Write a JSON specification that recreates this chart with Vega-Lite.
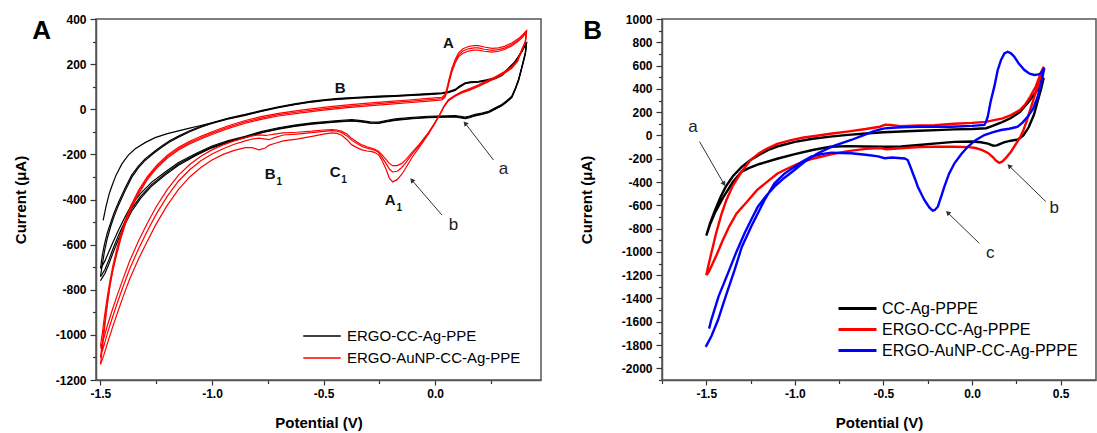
{
"$schema": "https://vega.github.io/schema/vega-lite/v6.json",
"background": "white",
"padding": {"left": 12, "top": 12, "right": 0, "bottom": 0},
"bounds": "flush",
"spacing": 121,
"resolve": {"scale": {"color": "independent"}, "legend": {"color": "independent"}},
"config": {
  "font": "Liberation Sans",
  "view": {"stroke": "#555", "strokeWidth": 1.5},
  "axis": {"grid": false, "domainColor": "#555", "domainWidth": 1.5, "tickColor": "#333", "tickWidth": 1.2,
    "labelFont": "Liberation Sans", "labelFontSize": 12, "labelFontWeight": "bold", "labelColor": "#000", "labelPadding": 4,
    "labelFlush": false, "labelOverlap": false,
    "titleFont": "Liberation Sans", "titleFontSize": 15, "titleFontWeight": "bold", "titleColor": "#000"},
  "title": {"font": "Liberation Sans", "fontSize": 26, "fontWeight": "bold", "color": "#000"}
},
"datasets": {
"a": [
{"s":"k","c":1,"v":-1.488,"i":-493},{"s":"k","c":1,"v":-1.475,"i":-430},{"s":"k","c":1,"v":-1.46,"i":-372},{"s":"k","c":1,"v":-1.445,"i":-330},{"s":"k","c":1,"v":-1.43,"i":-292},{"s":"k","c":1,"v":-1.404,"i":-242},{"s":"k","c":1,"v":-1.375,"i":-203},{"s":"k","c":1,"v":-1.344,"i":-175},{"s":"k","c":1,"v":-1.3,"i":-148},{"s":"k","c":1,"v":-1.255,"i":-126},{"s":"k","c":1,"v":-1.2,"i":-108},{"s":"k","c":1,"v":-1.15,"i":-96},{"s":"k","c":1,"v":-1.1,"i":-84},{"s":"k","c":1,"v":-1.05,"i":-72},{"s":"k","c":1,"v":-1.0,"i":-60},{"s":"k","c":1,"v":-0.93,"i":-40},{"s":"k","c":1,"v":-0.851,"i":-23},{"s":"k","c":1,"v":-0.78,"i":-6},{"s":"k","c":1,"v":-0.702,"i":11},{"s":"k","c":1,"v":-0.63,"i":24},{"s":"k","c":1,"v":-0.552,"i":36},{"s":"k","c":1,"v":-0.49,"i":43},{"s":"k","c":1,"v":-0.433,"i":48},{"s":"k","c":1,"v":-0.35,"i":53},{"s":"k","c":1,"v":-0.253,"i":58},{"s":"k","c":1,"v":-0.18,"i":61},{"s":"k","c":1,"v":-0.104,"i":65},{"s":"k","c":1,"v":-0.03,"i":69},{"s":"k","c":1,"v":0.031,"i":73},{"s":"k","c":1,"v":0.06,"i":78},{"s":"k","c":1,"v":0.09,"i":88},{"s":"k","c":1,"v":0.11,"i":103},{"s":"k","c":1,"v":0.135,"i":117},{"s":"k","c":1,"v":0.16,"i":122},{"s":"k","c":1,"v":0.195,"i":124},{"s":"k","c":1,"v":0.23,"i":130},{"s":"k","c":1,"v":0.27,"i":139},{"s":"k","c":1,"v":0.3,"i":154},{"s":"k","c":1,"v":0.33,"i":183},{"s":"k","c":1,"v":0.355,"i":207},{"s":"k","c":1,"v":0.374,"i":235},{"s":"k","c":1,"v":0.39,"i":260},{"s":"k","c":1,"v":0.404,"i":287},{"s":"k","c":1,"v":0.41,"i":296},
{"s":"k","c":1,"v":0.405,"i":252},{"s":"k","c":1,"v":0.397,"i":220},{"s":"k","c":1,"v":0.386,"i":177},{"s":"k","c":1,"v":0.374,"i":132},{"s":"k","c":1,"v":0.36,"i":94},{"s":"k","c":1,"v":0.344,"i":58},{"s":"k","c":1,"v":0.32,"i":37},{"s":"k","c":1,"v":0.299,"i":21},{"s":"k","c":1,"v":0.27,"i":6},{"s":"k","c":1,"v":0.24,"i":-9},{"s":"k","c":1,"v":0.21,"i":-17},{"s":"k","c":1,"v":0.18,"i":-23},{"s":"k","c":1,"v":0.155,"i":-30},{"s":"k","c":1,"v":0.135,"i":-35},{"s":"k","c":1,"v":0.115,"i":-31},{"s":"k","c":1,"v":0.09,"i":-28},{"s":"k","c":1,"v":0.05,"i":-29},{"s":"k","c":1,"v":-0.03,"i":-31},{"s":"k","c":1,"v":-0.1,"i":-36},{"s":"k","c":1,"v":-0.179,"i":-43},{"s":"k","c":1,"v":-0.22,"i":-50},{"s":"k","c":1,"v":-0.253,"i":-57},{"s":"k","c":1,"v":-0.29,"i":-56},{"s":"k","c":1,"v":-0.33,"i":-50},{"s":"k","c":1,"v":-0.373,"i":-46},{"s":"k","c":1,"v":-0.45,"i":-51},{"s":"k","c":1,"v":-0.552,"i":-60},{"s":"k","c":1,"v":-0.63,"i":-70},{"s":"k","c":1,"v":-0.702,"i":-82},{"s":"k","c":1,"v":-0.78,"i":-99},{"s":"k","c":1,"v":-0.851,"i":-120},{"s":"k","c":1,"v":-0.93,"i":-140},{"s":"k","c":1,"v":-1.0,"i":-163},{"s":"k","c":1,"v":-1.07,"i":-195},{"s":"k","c":1,"v":-1.15,"i":-236},{"s":"k","c":1,"v":-1.21,"i":-278},{"s":"k","c":1,"v":-1.27,"i":-323},{"s":"k","c":1,"v":-1.32,"i":-373},{"s":"k","c":1,"v":-1.36,"i":-423},{"s":"k","c":1,"v":-1.39,"i":-478},{"s":"k","c":1,"v":-1.419,"i":-535},{"s":"k","c":1,"v":-1.445,"i":-592},{"s":"k","c":1,"v":-1.464,"i":-635},{"s":"k","c":1,"v":-1.48,"i":-672},{"s":"k","c":1,"v":-1.495,"i":-700},{"s":"k","c":1,"v":-1.5,"i":-705},
{"s":"k","c":2,"v":-1.5,"i":-705},{"s":"k","c":2,"v":-1.492,"i":-650},{"s":"k","c":2,"v":-1.482,"i":-598},{"s":"k","c":2,"v":-1.47,"i":-550},{"s":"k","c":2,"v":-1.455,"i":-505},{"s":"k","c":2,"v":-1.44,"i":-462},{"s":"k","c":2,"v":-1.419,"i":-412},{"s":"k","c":2,"v":-1.39,"i":-350},{"s":"k","c":2,"v":-1.36,"i":-292},{"s":"k","c":2,"v":-1.33,"i":-252},{"s":"k","c":2,"v":-1.3,"i":-220},{"s":"k","c":2,"v":-1.26,"i":-188},{"s":"k","c":2,"v":-1.225,"i":-163},{"s":"k","c":2,"v":-1.19,"i":-140},{"s":"k","c":2,"v":-1.15,"i":-119},{"s":"k","c":2,"v":-1.1,"i":-95},{"s":"k","c":2,"v":-1.05,"i":-76},{"s":"k","c":2,"v":-1.0,"i":-60},{"s":"k","c":2,"v":-0.93,"i":-42},{"s":"k","c":2,"v":-0.851,"i":-25},{"s":"k","c":2,"v":-0.78,"i":-8},{"s":"k","c":2,"v":-0.702,"i":9},{"s":"k","c":2,"v":-0.63,"i":22},{"s":"k","c":2,"v":-0.552,"i":34},{"s":"k","c":2,"v":-0.49,"i":41},{"s":"k","c":2,"v":-0.433,"i":46},{"s":"k","c":2,"v":-0.35,"i":51},{"s":"k","c":2,"v":-0.253,"i":56},{"s":"k","c":2,"v":-0.18,"i":59},{"s":"k","c":2,"v":-0.104,"i":63},{"s":"k","c":2,"v":-0.03,"i":67},{"s":"k","c":2,"v":0.031,"i":71},{"s":"k","c":2,"v":0.06,"i":76},{"s":"k","c":2,"v":0.09,"i":85},{"s":"k","c":2,"v":0.11,"i":100},{"s":"k","c":2,"v":0.135,"i":115},{"s":"k","c":2,"v":0.16,"i":120},{"s":"k","c":2,"v":0.195,"i":122},{"s":"k","c":2,"v":0.23,"i":128},{"s":"k","c":2,"v":0.27,"i":137},{"s":"k","c":2,"v":0.3,"i":152},{"s":"k","c":2,"v":0.33,"i":181},{"s":"k","c":2,"v":0.355,"i":205},{"s":"k","c":2,"v":0.374,"i":233},{"s":"k","c":2,"v":0.39,"i":258},{"s":"k","c":2,"v":0.404,"i":285},{"s":"k","c":2,"v":0.41,"i":293},
{"s":"k","c":2,"v":0.405,"i":248},{"s":"k","c":2,"v":0.397,"i":216},{"s":"k","c":2,"v":0.386,"i":173},{"s":"k","c":2,"v":0.374,"i":128},{"s":"k","c":2,"v":0.36,"i":90},{"s":"k","c":2,"v":0.344,"i":54},{"s":"k","c":2,"v":0.32,"i":33},{"s":"k","c":2,"v":0.299,"i":17},{"s":"k","c":2,"v":0.27,"i":2},{"s":"k","c":2,"v":0.24,"i":-13},{"s":"k","c":2,"v":0.21,"i":-21},{"s":"k","c":2,"v":0.18,"i":-27},{"s":"k","c":2,"v":0.155,"i":-34},{"s":"k","c":2,"v":0.135,"i":-39},{"s":"k","c":2,"v":0.115,"i":-35},{"s":"k","c":2,"v":0.09,"i":-32},{"s":"k","c":2,"v":0.05,"i":-33},{"s":"k","c":2,"v":-0.03,"i":-35},{"s":"k","c":2,"v":-0.1,"i":-40},{"s":"k","c":2,"v":-0.179,"i":-47},{"s":"k","c":2,"v":-0.22,"i":-54},{"s":"k","c":2,"v":-0.253,"i":-61},{"s":"k","c":2,"v":-0.29,"i":-60},{"s":"k","c":2,"v":-0.33,"i":-54},{"s":"k","c":2,"v":-0.373,"i":-50},{"s":"k","c":2,"v":-0.45,"i":-55},{"s":"k","c":2,"v":-0.552,"i":-64},{"s":"k","c":2,"v":-0.63,"i":-74},{"s":"k","c":2,"v":-0.702,"i":-86},{"s":"k","c":2,"v":-0.78,"i":-103},{"s":"k","c":2,"v":-0.851,"i":-124},{"s":"k","c":2,"v":-0.93,"i":-144},{"s":"k","c":2,"v":-1.0,"i":-168},{"s":"k","c":2,"v":-1.07,"i":-200},{"s":"k","c":2,"v":-1.15,"i":-243},{"s":"k","c":2,"v":-1.21,"i":-286},{"s":"k","c":2,"v":-1.27,"i":-333},{"s":"k","c":2,"v":-1.32,"i":-386},{"s":"k","c":2,"v":-1.36,"i":-440},{"s":"k","c":2,"v":-1.39,"i":-497},{"s":"k","c":2,"v":-1.419,"i":-558},{"s":"k","c":2,"v":-1.445,"i":-622},{"s":"k","c":2,"v":-1.464,"i":-672},{"s":"k","c":2,"v":-1.48,"i":-710},{"s":"k","c":2,"v":-1.495,"i":-735},{"s":"k","c":2,"v":-1.5,"i":-742},
{"s":"k","c":3,"v":-1.5,"i":-742},{"s":"k","c":3,"v":-1.492,"i":-690},{"s":"k","c":3,"v":-1.482,"i":-630},{"s":"k","c":3,"v":-1.47,"i":-575},{"s":"k","c":3,"v":-1.455,"i":-522},{"s":"k","c":3,"v":-1.44,"i":-478},{"s":"k","c":3,"v":-1.419,"i":-425},{"s":"k","c":3,"v":-1.39,"i":-362},{"s":"k","c":3,"v":-1.36,"i":-302},{"s":"k","c":3,"v":-1.33,"i":-260},{"s":"k","c":3,"v":-1.3,"i":-227},{"s":"k","c":3,"v":-1.26,"i":-194},{"s":"k","c":3,"v":-1.225,"i":-168},{"s":"k","c":3,"v":-1.19,"i":-145},{"s":"k","c":3,"v":-1.15,"i":-124},{"s":"k","c":3,"v":-1.1,"i":-100},{"s":"k","c":3,"v":-1.05,"i":-80},{"s":"k","c":3,"v":-1.0,"i":-63},{"s":"k","c":3,"v":-0.93,"i":-44},{"s":"k","c":3,"v":-0.851,"i":-27},{"s":"k","c":3,"v":-0.78,"i":-10},{"s":"k","c":3,"v":-0.702,"i":7},{"s":"k","c":3,"v":-0.63,"i":20},{"s":"k","c":3,"v":-0.552,"i":32},{"s":"k","c":3,"v":-0.49,"i":39},{"s":"k","c":3,"v":-0.433,"i":44},{"s":"k","c":3,"v":-0.35,"i":49},{"s":"k","c":3,"v":-0.253,"i":54},{"s":"k","c":3,"v":-0.18,"i":57},{"s":"k","c":3,"v":-0.104,"i":61},{"s":"k","c":3,"v":-0.03,"i":65},{"s":"k","c":3,"v":0.031,"i":69},{"s":"k","c":3,"v":0.06,"i":74},{"s":"k","c":3,"v":0.09,"i":83},{"s":"k","c":3,"v":0.11,"i":98},{"s":"k","c":3,"v":0.135,"i":113},{"s":"k","c":3,"v":0.16,"i":118},{"s":"k","c":3,"v":0.195,"i":120},{"s":"k","c":3,"v":0.23,"i":126},{"s":"k","c":3,"v":0.27,"i":135},{"s":"k","c":3,"v":0.3,"i":150},{"s":"k","c":3,"v":0.33,"i":179},{"s":"k","c":3,"v":0.355,"i":203},{"s":"k","c":3,"v":0.374,"i":231},{"s":"k","c":3,"v":0.39,"i":256},{"s":"k","c":3,"v":0.404,"i":283},{"s":"k","c":3,"v":0.41,"i":290},
{"s":"k","c":3,"v":0.405,"i":245},{"s":"k","c":3,"v":0.397,"i":213},{"s":"k","c":3,"v":0.386,"i":170},{"s":"k","c":3,"v":0.374,"i":125},{"s":"k","c":3,"v":0.36,"i":88},{"s":"k","c":3,"v":0.344,"i":52},{"s":"k","c":3,"v":0.32,"i":31},{"s":"k","c":3,"v":0.299,"i":15},{"s":"k","c":3,"v":0.27,"i":0},{"s":"k","c":3,"v":0.24,"i":-15},{"s":"k","c":3,"v":0.21,"i":-23},{"s":"k","c":3,"v":0.18,"i":-29},{"s":"k","c":3,"v":0.155,"i":-37},{"s":"k","c":3,"v":0.135,"i":-42},{"s":"k","c":3,"v":0.115,"i":-38},{"s":"k","c":3,"v":0.09,"i":-34},{"s":"k","c":3,"v":0.05,"i":-35},{"s":"k","c":3,"v":-0.03,"i":-37},{"s":"k","c":3,"v":-0.1,"i":-42},{"s":"k","c":3,"v":-0.179,"i":-49},{"s":"k","c":3,"v":-0.22,"i":-56},{"s":"k","c":3,"v":-0.253,"i":-63},{"s":"k","c":3,"v":-0.29,"i":-62},{"s":"k","c":3,"v":-0.33,"i":-56},{"s":"k","c":3,"v":-0.373,"i":-52},{"s":"k","c":3,"v":-0.45,"i":-57},{"s":"k","c":3,"v":-0.552,"i":-66},{"s":"k","c":3,"v":-0.63,"i":-76},{"s":"k","c":3,"v":-0.702,"i":-88},{"s":"k","c":3,"v":-0.78,"i":-105},{"s":"k","c":3,"v":-0.851,"i":-126},{"s":"k","c":3,"v":-0.93,"i":-147},{"s":"k","c":3,"v":-1.0,"i":-171},{"s":"k","c":3,"v":-1.07,"i":-204},{"s":"k","c":3,"v":-1.15,"i":-248},{"s":"k","c":3,"v":-1.21,"i":-292},{"s":"k","c":3,"v":-1.27,"i":-340},{"s":"k","c":3,"v":-1.32,"i":-395},{"s":"k","c":3,"v":-1.36,"i":-452},{"s":"k","c":3,"v":-1.39,"i":-510},{"s":"k","c":3,"v":-1.419,"i":-575},{"s":"k","c":3,"v":-1.445,"i":-640},{"s":"k","c":3,"v":-1.464,"i":-690},{"s":"k","c":3,"v":-1.48,"i":-728},{"s":"k","c":3,"v":-1.495,"i":-752},{"s":"k","c":3,"v":-1.5,"i":-760},
{"s":"r","c":1,"v":-1.5,"i":-1050},{"s":"r","c":1,"v":-1.492,"i":-995},{"s":"r","c":1,"v":-1.485,"i":-940},{"s":"r","c":1,"v":-1.477,"i":-882},{"s":"r","c":1,"v":-1.468,"i":-822},{"s":"r","c":1,"v":-1.457,"i":-758},{"s":"r","c":1,"v":-1.444,"i":-692},{"s":"r","c":1,"v":-1.428,"i":-625},{"s":"r","c":1,"v":-1.41,"i":-558},{"s":"r","c":1,"v":-1.388,"i":-490},{"s":"r","c":1,"v":-1.362,"i":-424},{"s":"r","c":1,"v":-1.33,"i":-360},{"s":"r","c":1,"v":-1.29,"i":-298},{"s":"r","c":1,"v":-1.245,"i":-246},{"s":"r","c":1,"v":-1.2,"i":-204},{"s":"r","c":1,"v":-1.15,"i":-169},{"s":"r","c":1,"v":-1.1,"i":-142},{"s":"r","c":1,"v":-1.05,"i":-120},{"s":"r","c":1,"v":-1.0,"i":-100},{"s":"r","c":1,"v":-0.93,"i":-74},{"s":"r","c":1,"v":-0.851,"i":-50},{"s":"r","c":1,"v":-0.78,"i":-33},{"s":"r","c":1,"v":-0.702,"i":-18},{"s":"r","c":1,"v":-0.6,"i":-4},{"s":"r","c":1,"v":-0.5,"i":8},{"s":"r","c":1,"v":-0.403,"i":18},{"s":"r","c":1,"v":-0.3,"i":27},{"s":"r","c":1,"v":-0.2,"i":35},{"s":"r","c":1,"v":-0.104,"i":42},{"s":"r","c":1,"v":-0.03,"i":48},{"s":"r","c":1,"v":0.031,"i":53},{"s":"r","c":1,"v":0.045,"i":66},{"s":"r","c":1,"v":0.053,"i":92},{"s":"r","c":1,"v":0.064,"i":138},{"s":"r","c":1,"v":0.075,"i":180},{"s":"r","c":1,"v":0.09,"i":220},{"s":"r","c":1,"v":0.105,"i":250},{"s":"r","c":1,"v":0.125,"i":268},{"s":"r","c":1,"v":0.15,"i":278},{"s":"r","c":1,"v":0.175,"i":282},{"s":"r","c":1,"v":0.195,"i":282},{"s":"r","c":1,"v":0.22,"i":276},{"s":"r","c":1,"v":0.255,"i":270},{"s":"r","c":1,"v":0.285,"i":272},{"s":"r","c":1,"v":0.314,"i":280},{"s":"r","c":1,"v":0.345,"i":295},{"s":"r","c":1,"v":0.374,"i":313},{"s":"r","c":1,"v":0.393,"i":330},{"s":"r","c":1,"v":0.404,"i":343},{"s":"r","c":1,"v":0.41,"i":348},
{"s":"r","c":1,"v":0.405,"i":302},{"s":"r","c":1,"v":0.389,"i":265},{"s":"r","c":1,"v":0.37,"i":218},{"s":"r","c":1,"v":0.344,"i":190},{"s":"r","c":1,"v":0.31,"i":166},{"s":"r","c":1,"v":0.27,"i":144},{"s":"r","c":1,"v":0.23,"i":125},{"s":"r","c":1,"v":0.195,"i":108},{"s":"r","c":1,"v":0.155,"i":92},{"s":"r","c":1,"v":0.12,"i":78},{"s":"r","c":1,"v":0.09,"i":62},{"s":"r","c":1,"v":0.06,"i":42},{"s":"r","c":1,"v":0.04,"i":13},{"s":"r","c":1,"v":0.023,"i":-20},{"s":"r","c":1,"v":0.0,"i":-62},{"s":"r","c":1,"v":-0.03,"i":-110},{"s":"r","c":1,"v":-0.07,"i":-168},{"s":"r","c":1,"v":-0.104,"i":-215},{"s":"r","c":1,"v":-0.13,"i":-258},{"s":"r","c":1,"v":-0.149,"i":-288},{"s":"r","c":1,"v":-0.17,"i":-312},{"s":"r","c":1,"v":-0.19,"i":-322},{"s":"r","c":1,"v":-0.205,"i":-305},{"s":"r","c":1,"v":-0.22,"i":-265},{"s":"r","c":1,"v":-0.24,"i":-222},{"s":"r","c":1,"v":-0.253,"i":-202},{"s":"r","c":1,"v":-0.27,"i":-192},{"s":"r","c":1,"v":-0.283,"i":-188},{"s":"r","c":1,"v":-0.305,"i":-185},{"s":"r","c":1,"v":-0.328,"i":-180},{"s":"r","c":1,"v":-0.35,"i":-170},{"s":"r","c":1,"v":-0.373,"i":-158},{"s":"r","c":1,"v":-0.395,"i":-135},{"s":"r","c":1,"v":-0.418,"i":-115},{"s":"r","c":1,"v":-0.44,"i":-107},{"s":"r","c":1,"v":-0.463,"i":-105},{"s":"r","c":1,"v":-0.5,"i":-110},{"s":"r","c":1,"v":-0.552,"i":-120},{"s":"r","c":1,"v":-0.62,"i":-132},{"s":"r","c":1,"v":-0.68,"i":-140},{"s":"r","c":1,"v":-0.72,"i":-152},{"s":"r","c":1,"v":-0.745,"i":-160},{"s":"r","c":1,"v":-0.761,"i":-172},{"s":"r","c":1,"v":-0.79,"i":-180},{"s":"r","c":1,"v":-0.82,"i":-170},{"s":"r","c":1,"v":-0.851,"i":-170},{"s":"r","c":1,"v":-0.9,"i":-182},{"s":"r","c":1,"v":-0.95,"i":-200},{"s":"r","c":1,"v":-1.0,"i":-225},{"s":"r","c":1,"v":-1.05,"i":-258},{"s":"r","c":1,"v":-1.1,"i":-300},{"s":"r","c":1,"v":-1.15,"i":-355},{"s":"r","c":1,"v":-1.2,"i":-425},{"s":"r","c":1,"v":-1.25,"i":-508},{"s":"r","c":1,"v":-1.29,"i":-585},{"s":"r","c":1,"v":-1.33,"i":-665},{"s":"r","c":1,"v":-1.37,"i":-755},{"s":"r","c":1,"v":-1.4,"i":-835},{"s":"r","c":1,"v":-1.425,"i":-905},{"s":"r","c":1,"v":-1.447,"i":-970},{"s":"r","c":1,"v":-1.468,"i":-1035},{"s":"r","c":1,"v":-1.485,"i":-1090},{"s":"r","c":1,"v":-1.5,"i":-1130},
{"s":"r","c":2,"v":-1.5,"i":-1130},{"s":"r","c":2,"v":-1.492,"i":-1065},{"s":"r","c":2,"v":-1.485,"i":-1000},{"s":"r","c":2,"v":-1.477,"i":-930},{"s":"r","c":2,"v":-1.468,"i":-860},{"s":"r","c":2,"v":-1.457,"i":-780},{"s":"r","c":2,"v":-1.444,"i":-710},{"s":"r","c":2,"v":-1.428,"i":-640},{"s":"r","c":2,"v":-1.41,"i":-570},{"s":"r","c":2,"v":-1.388,"i":-500},{"s":"r","c":2,"v":-1.362,"i":-432},{"s":"r","c":2,"v":-1.33,"i":-368},{"s":"r","c":2,"v":-1.29,"i":-305},{"s":"r","c":2,"v":-1.245,"i":-252},{"s":"r","c":2,"v":-1.2,"i":-210},{"s":"r","c":2,"v":-1.15,"i":-175},{"s":"r","c":2,"v":-1.1,"i":-148},{"s":"r","c":2,"v":-1.05,"i":-126},{"s":"r","c":2,"v":-1.0,"i":-106},{"s":"r","c":2,"v":-0.93,"i":-80},{"s":"r","c":2,"v":-0.851,"i":-56},{"s":"r","c":2,"v":-0.78,"i":-39},{"s":"r","c":2,"v":-0.702,"i":-24},{"s":"r","c":2,"v":-0.6,"i":-10},{"s":"r","c":2,"v":-0.5,"i":2},{"s":"r","c":2,"v":-0.403,"i":12},{"s":"r","c":2,"v":-0.3,"i":21},{"s":"r","c":2,"v":-0.2,"i":29},{"s":"r","c":2,"v":-0.104,"i":36},{"s":"r","c":2,"v":-0.03,"i":42},{"s":"r","c":2,"v":0.031,"i":47},{"s":"r","c":2,"v":0.045,"i":60},{"s":"r","c":2,"v":0.053,"i":85},{"s":"r","c":2,"v":0.064,"i":130},{"s":"r","c":2,"v":0.075,"i":172},{"s":"r","c":2,"v":0.09,"i":212},{"s":"r","c":2,"v":0.105,"i":240},{"s":"r","c":2,"v":0.125,"i":258},{"s":"r","c":2,"v":0.15,"i":268},{"s":"r","c":2,"v":0.175,"i":272},{"s":"r","c":2,"v":0.195,"i":272},{"s":"r","c":2,"v":0.22,"i":266},{"s":"r","c":2,"v":0.255,"i":261},{"s":"r","c":2,"v":0.285,"i":264},{"s":"r","c":2,"v":0.314,"i":272},{"s":"r","c":2,"v":0.345,"i":288},{"s":"r","c":2,"v":0.374,"i":307},{"s":"r","c":2,"v":0.393,"i":325},{"s":"r","c":2,"v":0.404,"i":339},{"s":"r","c":2,"v":0.41,"i":345},
{"s":"r","c":2,"v":0.405,"i":300},{"s":"r","c":2,"v":0.389,"i":263},{"s":"r","c":2,"v":0.37,"i":215},{"s":"r","c":2,"v":0.344,"i":186},{"s":"r","c":2,"v":0.31,"i":162},{"s":"r","c":2,"v":0.27,"i":140},{"s":"r","c":2,"v":0.23,"i":121},{"s":"r","c":2,"v":0.195,"i":104},{"s":"r","c":2,"v":0.155,"i":88},{"s":"r","c":2,"v":0.12,"i":75},{"s":"r","c":2,"v":0.09,"i":60},{"s":"r","c":2,"v":0.06,"i":40},{"s":"r","c":2,"v":0.04,"i":12},{"s":"r","c":2,"v":0.023,"i":-20},{"s":"r","c":2,"v":0.0,"i":-60},{"s":"r","c":2,"v":-0.03,"i":-107},{"s":"r","c":2,"v":-0.07,"i":-160},{"s":"r","c":2,"v":-0.104,"i":-200},{"s":"r","c":2,"v":-0.13,"i":-235},{"s":"r","c":2,"v":-0.149,"i":-258},{"s":"r","c":2,"v":-0.17,"i":-275},{"s":"r","c":2,"v":-0.19,"i":-278},{"s":"r","c":2,"v":-0.205,"i":-265},{"s":"r","c":2,"v":-0.22,"i":-240},{"s":"r","c":2,"v":-0.24,"i":-210},{"s":"r","c":2,"v":-0.253,"i":-192},{"s":"r","c":2,"v":-0.27,"i":-182},{"s":"r","c":2,"v":-0.283,"i":-178},{"s":"r","c":2,"v":-0.305,"i":-172},{"s":"r","c":2,"v":-0.328,"i":-165},{"s":"r","c":2,"v":-0.35,"i":-152},{"s":"r","c":2,"v":-0.373,"i":-138},{"s":"r","c":2,"v":-0.395,"i":-118},{"s":"r","c":2,"v":-0.418,"i":-104},{"s":"r","c":2,"v":-0.44,"i":-97},{"s":"r","c":2,"v":-0.463,"i":-95},{"s":"r","c":2,"v":-0.5,"i":-98},{"s":"r","c":2,"v":-0.552,"i":-104},{"s":"r","c":2,"v":-0.62,"i":-110},{"s":"r","c":2,"v":-0.68,"i":-114},{"s":"r","c":2,"v":-0.72,"i":-126},{"s":"r","c":2,"v":-0.745,"i":-135},{"s":"r","c":2,"v":-0.761,"i":-132},{"s":"r","c":2,"v":-0.79,"i":-128},{"s":"r","c":2,"v":-0.82,"i":-132},{"s":"r","c":2,"v":-0.851,"i":-140},{"s":"r","c":2,"v":-0.9,"i":-155},{"s":"r","c":2,"v":-0.95,"i":-175},{"s":"r","c":2,"v":-1.0,"i":-198},{"s":"r","c":2,"v":-1.05,"i":-228},{"s":"r","c":2,"v":-1.1,"i":-268},{"s":"r","c":2,"v":-1.15,"i":-318},{"s":"r","c":2,"v":-1.2,"i":-385},{"s":"r","c":2,"v":-1.25,"i":-465},{"s":"r","c":2,"v":-1.29,"i":-540},{"s":"r","c":2,"v":-1.33,"i":-620},{"s":"r","c":2,"v":-1.37,"i":-710},{"s":"r","c":2,"v":-1.4,"i":-790},{"s":"r","c":2,"v":-1.425,"i":-860},{"s":"r","c":2,"v":-1.447,"i":-925},{"s":"r","c":2,"v":-1.468,"i":-990},{"s":"r","c":2,"v":-1.485,"i":-1050},{"s":"r","c":2,"v":-1.5,"i":-1100},
{"s":"r","c":3,"v":-1.5,"i":-1100},{"s":"r","c":3,"v":-1.492,"i":-1040},{"s":"r","c":3,"v":-1.485,"i":-978},{"s":"r","c":3,"v":-1.477,"i":-912},{"s":"r","c":3,"v":-1.468,"i":-846},{"s":"r","c":3,"v":-1.457,"i":-778},{"s":"r","c":3,"v":-1.444,"i":-712},{"s":"r","c":3,"v":-1.428,"i":-646},{"s":"r","c":3,"v":-1.41,"i":-578},{"s":"r","c":3,"v":-1.388,"i":-508},{"s":"r","c":3,"v":-1.362,"i":-440},{"s":"r","c":3,"v":-1.33,"i":-376},{"s":"r","c":3,"v":-1.29,"i":-312},{"s":"r","c":3,"v":-1.245,"i":-258},{"s":"r","c":3,"v":-1.2,"i":-216},{"s":"r","c":3,"v":-1.15,"i":-181},{"s":"r","c":3,"v":-1.1,"i":-154},{"s":"r","c":3,"v":-1.05,"i":-132},{"s":"r","c":3,"v":-1.0,"i":-112},{"s":"r","c":3,"v":-0.93,"i":-86},{"s":"r","c":3,"v":-0.851,"i":-62},{"s":"r","c":3,"v":-0.78,"i":-45},{"s":"r","c":3,"v":-0.702,"i":-30},{"s":"r","c":3,"v":-0.6,"i":-16},{"s":"r","c":3,"v":-0.5,"i":-4},{"s":"r","c":3,"v":-0.403,"i":6},{"s":"r","c":3,"v":-0.3,"i":15},{"s":"r","c":3,"v":-0.2,"i":23},{"s":"r","c":3,"v":-0.104,"i":30},{"s":"r","c":3,"v":-0.03,"i":36},{"s":"r","c":3,"v":0.031,"i":41},{"s":"r","c":3,"v":0.045,"i":54},{"s":"r","c":3,"v":0.053,"i":78},{"s":"r","c":3,"v":0.064,"i":122},{"s":"r","c":3,"v":0.075,"i":164},{"s":"r","c":3,"v":0.09,"i":204},{"s":"r","c":3,"v":0.105,"i":232},{"s":"r","c":3,"v":0.125,"i":248},{"s":"r","c":3,"v":0.15,"i":258},{"s":"r","c":3,"v":0.175,"i":262},{"s":"r","c":3,"v":0.195,"i":262},{"s":"r","c":3,"v":0.22,"i":257},{"s":"r","c":3,"v":0.255,"i":253},{"s":"r","c":3,"v":0.285,"i":257},{"s":"r","c":3,"v":0.314,"i":266},{"s":"r","c":3,"v":0.345,"i":282},{"s":"r","c":3,"v":0.374,"i":302},{"s":"r","c":3,"v":0.393,"i":320},{"s":"r","c":3,"v":0.404,"i":334},{"s":"r","c":3,"v":0.41,"i":340},
{"s":"r","c":3,"v":0.405,"i":298},{"s":"r","c":3,"v":0.389,"i":260},{"s":"r","c":3,"v":0.37,"i":212},{"s":"r","c":3,"v":0.344,"i":182},{"s":"r","c":3,"v":0.31,"i":158},{"s":"r","c":3,"v":0.27,"i":136},{"s":"r","c":3,"v":0.23,"i":118},{"s":"r","c":3,"v":0.195,"i":101},{"s":"r","c":3,"v":0.155,"i":85},{"s":"r","c":3,"v":0.12,"i":72},{"s":"r","c":3,"v":0.09,"i":58},{"s":"r","c":3,"v":0.06,"i":38},{"s":"r","c":3,"v":0.04,"i":11},{"s":"r","c":3,"v":0.023,"i":-20},{"s":"r","c":3,"v":0.0,"i":-58},{"s":"r","c":3,"v":-0.03,"i":-104},{"s":"r","c":3,"v":-0.07,"i":-155},{"s":"r","c":3,"v":-0.104,"i":-192},{"s":"r","c":3,"v":-0.13,"i":-222},{"s":"r","c":3,"v":-0.149,"i":-240},{"s":"r","c":3,"v":-0.17,"i":-250},{"s":"r","c":3,"v":-0.19,"i":-250},{"s":"r","c":3,"v":-0.205,"i":-240},{"s":"r","c":3,"v":-0.22,"i":-222},{"s":"r","c":3,"v":-0.24,"i":-200},{"s":"r","c":3,"v":-0.253,"i":-186},{"s":"r","c":3,"v":-0.27,"i":-177},{"s":"r","c":3,"v":-0.283,"i":-173},{"s":"r","c":3,"v":-0.305,"i":-166},{"s":"r","c":3,"v":-0.328,"i":-158},{"s":"r","c":3,"v":-0.35,"i":-145},{"s":"r","c":3,"v":-0.373,"i":-130},{"s":"r","c":3,"v":-0.395,"i":-110},{"s":"r","c":3,"v":-0.418,"i":-98},{"s":"r","c":3,"v":-0.44,"i":-92},{"s":"r","c":3,"v":-0.463,"i":-90},{"s":"r","c":3,"v":-0.5,"i":-92},{"s":"r","c":3,"v":-0.552,"i":-97},{"s":"r","c":3,"v":-0.62,"i":-102},{"s":"r","c":3,"v":-0.68,"i":-105},{"s":"r","c":3,"v":-0.72,"i":-110},{"s":"r","c":3,"v":-0.745,"i":-114},{"s":"r","c":3,"v":-0.761,"i":-116},{"s":"r","c":3,"v":-0.79,"i":-114},{"s":"r","c":3,"v":-0.82,"i":-118},{"s":"r","c":3,"v":-0.851,"i":-126},{"s":"r","c":3,"v":-0.9,"i":-140},{"s":"r","c":3,"v":-0.95,"i":-158},{"s":"r","c":3,"v":-1.0,"i":-180},{"s":"r","c":3,"v":-1.05,"i":-208},{"s":"r","c":3,"v":-1.1,"i":-245},{"s":"r","c":3,"v":-1.15,"i":-292},{"s":"r","c":3,"v":-1.2,"i":-355},{"s":"r","c":3,"v":-1.25,"i":-432},{"s":"r","c":3,"v":-1.29,"i":-505},{"s":"r","c":3,"v":-1.33,"i":-585},{"s":"r","c":3,"v":-1.37,"i":-675},{"s":"r","c":3,"v":-1.4,"i":-755},{"s":"r","c":3,"v":-1.425,"i":-825},{"s":"r","c":3,"v":-1.447,"i":-890},{"s":"r","c":3,"v":-1.468,"i":-955},{"s":"r","c":3,"v":-1.485,"i":-1015},{"s":"r","c":3,"v":-1.5,"i":-1060}
],
"b": [
{"s":"k","v":-1.5,"i":-860},{"s":"k","v":-1.48,"i":-760},{"s":"k","v":-1.45,"i":-640},{"s":"k","v":-1.42,"i":-530},{"s":"k","v":-1.39,"i":-440},{"s":"k","v":-1.35,"i":-350},{"s":"k","v":-1.3,"i":-270},{"s":"k","v":-1.25,"i":-210},{"s":"k","v":-1.2,"i":-165},{"s":"k","v":-1.15,"i":-125},{"s":"k","v":-1.1,"i":-95},{"s":"k","v":-1.0,"i":-55},{"s":"k","v":-0.9,"i":-28},{"s":"k","v":-0.8,"i":-10},{"s":"k","v":-0.7,"i":5},{"s":"k","v":-0.6,"i":17},{"s":"k","v":-0.5,"i":27},{"s":"k","v":-0.4,"i":34},{"s":"k","v":-0.3,"i":40},{"s":"k","v":-0.2,"i":46},{"s":"k","v":-0.1,"i":52},{"s":"k","v":0.0,"i":56},{"s":"k","v":0.08,"i":62},{"s":"k","v":0.12,"i":85},{"s":"k","v":0.17,"i":115},{"s":"k","v":0.22,"i":150},{"s":"k","v":0.27,"i":200},{"s":"k","v":0.32,"i":290},{"s":"k","v":0.36,"i":370},{"s":"k","v":0.39,"i":440},{"s":"k","v":0.405,"i":495},
{"s":"k","v":0.39,"i":400},{"s":"k","v":0.37,"i":290},{"s":"k","v":0.35,"i":180},{"s":"k","v":0.32,"i":70},{"s":"k","v":0.29,"i":0},{"s":"k","v":0.26,"i":-35},{"s":"k","v":0.22,"i":-45},{"s":"k","v":0.18,"i":-60},{"s":"k","v":0.14,"i":-85},{"s":"k","v":0.12,"i":-88},{"s":"k","v":0.09,"i":-70},{"s":"k","v":0.05,"i":-58},{"s":"k","v":0.0,"i":-52},{"s":"k","v":-0.1,"i":-55},{"s":"k","v":-0.2,"i":-68},{"s":"k","v":-0.3,"i":-82},{"s":"k","v":-0.4,"i":-95},{"s":"k","v":-0.5,"i":-97},{"s":"k","v":-0.6,"i":-95},{"s":"k","v":-0.7,"i":-92},{"s":"k","v":-0.8,"i":-97},{"s":"k","v":-0.9,"i":-125},{"s":"k","v":-1.0,"i":-160},{"s":"k","v":-1.1,"i":-200},{"s":"k","v":-1.2,"i":-245},{"s":"k","v":-1.26,"i":-280},{"s":"k","v":-1.3,"i":-310},{"s":"k","v":-1.35,"i":-400},{"s":"k","v":-1.4,"i":-520},{"s":"k","v":-1.45,"i":-660},{"s":"k","v":-1.48,"i":-770},{"s":"k","v":-1.5,"i":-860},
{"s":"r","v":-1.5,"i":-1200},{"s":"r","v":-1.49,"i":-1130},{"s":"r","v":-1.47,"i":-1000},{"s":"r","v":-1.445,"i":-842},{"s":"r","v":-1.415,"i":-680},{"s":"r","v":-1.387,"i":-556},{"s":"r","v":-1.35,"i":-430},{"s":"r","v":-1.3,"i":-310},{"s":"r","v":-1.25,"i":-212},{"s":"r","v":-1.2,"i":-150},{"s":"r","v":-1.156,"i":-112},{"s":"r","v":-1.1,"i":-72},{"s":"r","v":-1.021,"i":-40},{"s":"r","v":-0.95,"i":-18},{"s":"r","v":-0.886,"i":-5},{"s":"r","v":-0.8,"i":15},{"s":"r","v":-0.694,"i":35},{"s":"r","v":-0.6,"i":55},{"s":"r","v":-0.52,"i":75},{"s":"r","v":-0.49,"i":92},{"s":"r","v":-0.46,"i":90},{"s":"r","v":-0.405,"i":80},{"s":"r","v":-0.3,"i":85},{"s":"r","v":-0.212,"i":89},{"s":"r","v":-0.1,"i":100},{"s":"r","v":0.0,"i":108},{"s":"r","v":0.077,"i":117},{"s":"r","v":0.173,"i":146},{"s":"r","v":0.22,"i":175},{"s":"r","v":0.27,"i":218},{"s":"r","v":0.3,"i":265},{"s":"r","v":0.328,"i":332},{"s":"r","v":0.36,"i":420},{"s":"r","v":0.395,"i":560},{"s":"r","v":0.405,"i":590},
{"s":"r","v":0.4,"i":540},{"s":"r","v":0.385,"i":470},{"s":"r","v":0.366,"i":400},{"s":"r","v":0.345,"i":300},{"s":"r","v":0.328,"i":218},{"s":"r","v":0.31,"i":130},{"s":"r","v":0.289,"i":40},{"s":"r","v":0.27,"i":-20},{"s":"r","v":0.25,"i":-69},{"s":"r","v":0.22,"i":-140},{"s":"r","v":0.193,"i":-190},{"s":"r","v":0.17,"i":-225},{"s":"r","v":0.154,"i":-235},{"s":"r","v":0.135,"i":-215},{"s":"r","v":0.116,"i":-183},{"s":"r","v":0.09,"i":-150},{"s":"r","v":0.058,"i":-126},{"s":"r","v":0.02,"i":-108},{"s":"r","v":-0.019,"i":-100},{"s":"r","v":-0.1,"i":-97},{"s":"r","v":-0.212,"i":-97},{"s":"r","v":-0.3,"i":-100},{"s":"r","v":-0.405,"i":-110},{"s":"r","v":-0.482,"i":-118},{"s":"r","v":-0.52,"i":-108},{"s":"r","v":-0.6,"i":-115},{"s":"r","v":-0.7,"i":-135},{"s":"r","v":-0.79,"i":-160},{"s":"r","v":-0.9,"i":-200},{"s":"r","v":-0.983,"i":-245},{"s":"r","v":-1.05,"i":-290},{"s":"r","v":-1.098,"i":-327},{"s":"r","v":-1.15,"i":-390},{"s":"r","v":-1.214,"i":-470},{"s":"r","v":-1.27,"i":-570},{"s":"r","v":-1.329,"i":-670},{"s":"r","v":-1.37,"i":-780},{"s":"r","v":-1.407,"i":-900},{"s":"r","v":-1.44,"i":-1020},{"s":"r","v":-1.464,"i":-1100},{"s":"r","v":-1.485,"i":-1170},{"s":"r","v":-1.5,"i":-1200},
{"s":"u","v":-1.484,"i":-1659},{"s":"u","v":-1.472,"i":-1585},{"s":"u","v":-1.43,"i":-1380},{"s":"u","v":-1.378,"i":-1184},{"s":"u","v":-1.33,"i":-1000},{"s":"u","v":-1.284,"i":-840},{"s":"u","v":-1.245,"i":-720},{"s":"u","v":-1.209,"i":-612},{"s":"u","v":-1.16,"i":-515},{"s":"u","v":-1.115,"i":-440},{"s":"u","v":-1.06,"i":-365},{"s":"u","v":-1.002,"i":-297},{"s":"u","v":-0.94,"i":-220},{"s":"u","v":-0.87,"i":-153},{"s":"u","v":-0.78,"i":-90},{"s":"u","v":-0.682,"i":-39},{"s":"u","v":-0.6,"i":10},{"s":"u","v":-0.55,"i":40},{"s":"u","v":-0.494,"i":61},{"s":"u","v":-0.4,"i":70},{"s":"u","v":-0.306,"i":75},{"s":"u","v":-0.2,"i":75},{"s":"u","v":-0.118,"i":75},{"s":"u","v":0.0,"i":82},{"s":"u","v":0.07,"i":90},{"s":"u","v":0.08,"i":120},{"s":"u","v":0.089,"i":161},{"s":"u","v":0.105,"i":290},{"s":"u","v":0.126,"i":419},{"s":"u","v":0.145,"i":560},{"s":"u","v":0.164,"i":648},{"s":"u","v":0.183,"i":705},{"s":"u","v":0.201,"i":719},{"s":"u","v":0.22,"i":705},{"s":"u","v":0.239,"i":676},{"s":"u","v":0.265,"i":615},{"s":"u","v":0.296,"i":562},{"s":"u","v":0.325,"i":530},{"s":"u","v":0.352,"i":519},{"s":"u","v":0.375,"i":525},{"s":"u","v":0.389,"i":534},{"s":"u","v":0.408,"i":577},
{"s":"u","v":0.395,"i":480},{"s":"u","v":0.371,"i":333},{"s":"u","v":0.345,"i":230},{"s":"u","v":0.314,"i":161},{"s":"u","v":0.285,"i":110},{"s":"u","v":0.258,"i":75},{"s":"u","v":0.21,"i":58},{"s":"u","v":0.164,"i":47},{"s":"u","v":0.12,"i":28},{"s":"u","v":0.07,"i":4},{"s":"u","v":0.02,"i":-40},{"s":"u","v":-0.024,"i":-97},{"s":"u","v":-0.06,"i":-160},{"s":"u","v":-0.099,"i":-239},{"s":"u","v":-0.13,"i":-330},{"s":"u","v":-0.156,"i":-440},{"s":"u","v":-0.175,"i":-530},{"s":"u","v":-0.193,"i":-612},{"s":"u","v":-0.21,"i":-640},{"s":"u","v":-0.222,"i":-646},{"s":"u","v":-0.24,"i":-620},{"s":"u","v":-0.269,"i":-554},{"s":"u","v":-0.29,"i":-490},{"s":"u","v":-0.306,"i":-440},{"s":"u","v":-0.32,"i":-380},{"s":"u","v":-0.334,"i":-325},{"s":"u","v":-0.35,"i":-260},{"s":"u","v":-0.363,"i":-211},{"s":"u","v":-0.38,"i":-198},{"s":"u","v":-0.4,"i":-196},{"s":"u","v":-0.45,"i":-190},{"s":"u","v":-0.494,"i":-196},{"s":"u","v":-0.53,"i":-180},{"s":"u","v":-0.588,"i":-168},{"s":"u","v":-0.682,"i":-153},{"s":"u","v":-0.795,"i":-148},{"s":"u","v":-0.85,"i":-160},{"s":"u","v":-0.908,"i":-182},{"s":"u","v":-0.96,"i":-225},{"s":"u","v":-1.002,"i":-268},{"s":"u","v":-1.06,"i":-330},{"s":"u","v":-1.115,"i":-411},{"s":"u","v":-1.171,"i":-554},{"s":"u","v":-1.247,"i":-784},{"s":"u","v":-1.3,"i":-960},{"s":"u","v":-1.34,"i":-1155},{"s":"u","v":-1.39,"i":-1380},{"s":"u","v":-1.434,"i":-1585},{"s":"u","v":-1.47,"i":-1720},{"s":"u","v":-1.503,"i":-1816}
],
"la": [{"t":"A","v":0.06,"i":295},{"t":"B","v":-0.425,"i":93},{"t":"B","v":-0.739,"i":-287},{"t":"C","v":-0.448,"i":-277},{"t":"A","v":-0.201,"i":-402}],
"sa": [{"t":"1","v":-0.739,"i":-287},{"t":"1","v":-0.448,"i":-277},{"t":"1","v":-0.201,"i":-402}],
"ta": [{"t":"a","v":0.307,"i":-266},{"t":"b","v":0.083,"i":-513}],
"ra": [{"v":0.135,"i":-62,"v0":0.262,"i0":-225},{"v":-0.104,"i":-314,"v0":0.031,"i0":-469}],
"tb": [{"t":"a","v":-1.575,"i":70},{"t":"b","v":0.464,"i":-626},{"t":"c","v":0.103,"i":-1012}],
"rb": [{"t":"a","v":-1.40,"i":-417,"v0":-1.538,"i0":-53},{"t":"b","v":0.21,"i":-262,"v0":0.417,"i0":-568},{"t":"c","v":-0.137,"i":-663,"v0":0.041,"i0":-926}]
},
"hconcat": [
{
 "width": 445, "height": 361,
 "title": {"text": "A", "anchor": "start", "frame": "bounds", "orient": "top", "baseline": "alphabetic", "offset": -25, "dy": 27, "dx": 19},
 "encoding": {
  "x": {"field": "v", "type": "quantitative", "scale": {"domain": [-1.52, 0.475], "nice": false, "zero": false},
   "axis": {"title": "Potential (V)", "values": [-1.5,-1.25,-1.0,-0.75,-0.5,-0.25,0,0.25],
    "labelExpr": "abs(datum.value % 0.5) < 0.001 ? replace(format(datum.value, '.1f'), '\u2212', '-') : ''",
    "tickSize": {"condition": {"test": "abs(datum.value % 0.5) < 0.001", "value": 5}, "value": 3.5},
    "labelPadding": 3, "titlePadding": 16}},
  "y": {"field": "i", "type": "quantitative", "scale": {"domain": [-1200, 400], "nice": false, "zero": false},
   "axis": {"title": "Current (\u03bcA)", "values": [-1200,-1100,-1000,-900,-800,-700,-600,-500,-400,-300,-200,-100,0,100,200,300,400],
    "labelExpr": "datum.value % 200 == 0 ? replace(format(datum.value, 'd'), '\u2212', '-') : ''",
    "tickSize": {"condition": {"test": "datum.value % 200 == 0", "value": 6}, "value": 3.5},
    "labelPadding": 4, "titlePadding": 27}}
 },
 "layer": [
  {"data": {"name": "a"}, "mark": {"type": "line", "strokeWidth": 1.2},
   "encoding": {
    "color": {"field": "s", "type": "nominal", "scale": {"domain": ["k","r"], "range": ["#000000","#ff0000"]},
     "legend": {"orient": "none", "legendX": 217.5, "legendY": 308.5, "title": null, "symbolType": "M-2.5,0H2.5", "symbolSize": 225, "symbolStrokeWidth": 1.5,
      "labelFont": "Liberation Sans", "labelFontSize": 15, "labelColor": "#000", "labelOffset": 16.5, "rowPadding": 5, "padding": 0, "labelLimit": 400,
      "labelExpr": "datum.label == 'k' ? 'ERGO-CC-Ag-PPE' : 'ERGO-AuNP-CC-Ag-PPE'"}},
    "detail": {"field": "c", "type": "nominal"},
    "order": {"value": null}}},
  {"data": {"name": "ra"}, "mark": {"type": "rule", "color": "#333", "strokeWidth": 1},
   "encoding": {"x2": {"field": "v0"}, "y2": {"field": "i0"}}},
  {"data": {"name": "ra"}, "mark": {"type": "point", "shape": "triangle-up", "filled": true, "color": "#333", "size": 30, "angle": 320, "opacity": 1},
   "encoding": {}},
  {"data": {"name": "la"}, "mark": {"type": "text", "font": "Liberation Sans", "fontWeight": "bold", "fontSize": 15, "color": "#111"},
   "encoding": {"text": {"field": "t"}}},
  {"data": {"name": "sa"}, "mark": {"type": "text", "font": "Liberation Sans", "fontWeight": "bold", "fontSize": 10, "color": "#111", "dx": 9, "dy": 8},
   "encoding": {"text": {"field": "t"}}},
  {"data": {"name": "ta"}, "mark": {"type": "text", "font": "Liberation Sans", "fontSize": 17, "color": "#222"},
   "encoding": {"text": {"field": "t"}}}
 ]
},
{
 "width": 434, "height": 361,
 "title": {"text": "B", "anchor": "start", "frame": "bounds", "orient": "top", "baseline": "alphabetic", "offset": -25, "dy": 27, "dx": 4},
 "encoding": {
  "x": {"field": "v", "type": "quantitative", "scale": {"domain": [-1.75, 0.7], "nice": false, "zero": false},
   "axis": {"title": "Potential (V)", "values": [-1.75,-1.5,-1.25,-1.0,-0.75,-0.5,-0.25,0,0.25,0.5],
    "labelExpr": "abs(datum.value % 0.5) < 0.001 ? replace(format(datum.value, '.1f'), '\u2212', '-') : ''",
    "tickSize": {"condition": {"test": "abs(datum.value % 0.5) < 0.001", "value": 5}, "value": 3.5},
    "labelPadding": 3, "titlePadding": 16}},
  "y": {"field": "i", "type": "quantitative", "scale": {"domain": [-2100, 1000], "nice": false, "zero": false},
   "axis": {"title": "Current (\u03bcA)", "values": [-2100,-2000,-1900,-1800,-1700,-1600,-1500,-1400,-1300,-1200,-1100,-1000,-900,-800,-700,-600,-500,-400,-300,-200,-100,0,100,200,300,400,500,600,700,800,900,1000],
    "labelExpr": "datum.value % 200 == 0 ? replace(format(datum.value, 'd'), '\u2212', '-') : ''",
    "tickSize": {"condition": {"test": "datum.value % 200 == 0", "value": 6}, "value": 3.5},
    "labelPadding": 4, "titlePadding": 27}}
 },
 "layer": [
  {"data": {"name": "b"}, "mark": {"type": "line", "strokeWidth": 2.4},
   "encoding": {
    "color": {"field": "s", "type": "nominal", "scale": {"domain": ["k","r","u"], "range": ["#000000","#ff0000","#0000ff"]},
     "legend": {"orient": "none", "legendX": 186, "legendY": 280, "title": null, "symbolType": "M-2.375,0H2.375", "symbolSize": 256, "symbolStrokeWidth": 3,
      "labelFont": "Liberation Sans", "labelFontSize": 16, "labelColor": "#000", "labelOffset": 15, "rowPadding": 3, "padding": 0, "labelLimit": 400,
      "labelExpr": "datum.label == 'k' ? 'CC-Ag-PPPE' : datum.label == 'r' ? 'ERGO-CC-Ag-PPPE' : 'ERGO-AuNP-CC-Ag-PPPE'"}},
    "order": {"value": null}}},
  {"data": {"name": "rb"}, "mark": {"type": "rule", "color": "#333", "strokeWidth": 1},
   "encoding": {"x2": {"field": "v0"}, "y2": {"field": "i0"}}},
  {"data": {"name": "rb"}, "mark": {"type": "point", "shape": "triangle-up", "filled": true, "color": "#333", "size": 30, "opacity": 1},
   "encoding": {"angle": {"condition": {"test": "datum.t == 'a'", "value": 150}, "value": 314}}},
  {"data": {"name": "tb"}, "mark": {"type": "text", "font": "Liberation Sans", "fontSize": 17, "color": "#222"},
   "encoding": {"text": {"field": "t"}}}
 ]
}
]
}
